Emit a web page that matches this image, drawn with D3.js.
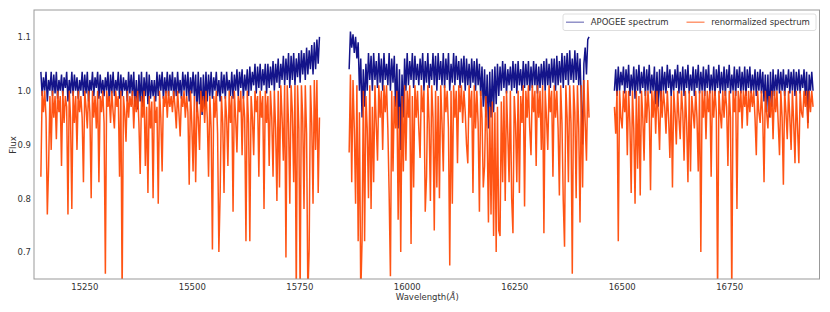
<!DOCTYPE html>
<html><head><meta charset="utf-8">
<script src="https://cdn.jsdelivr.net/npm/d3@7"></script>
<style>body{margin:0;background:#fff}svg{display:block;font-family:"DejaVu Sans",sans-serif}</style>
</head><body><svg id="c" width="830" height="312"></svg>
<script>
// wavelength grid: start of each detector chip (Angstrom) and sampling step
const chipStart = [15149, 15866, 16483];
const stepA = 3;

// chip 1 (blue detector)
const apogee1 = [
1.035,0.99,1.025,1.00,1.035,0.98,1.02,1.00,1.035,0.99,
1.03,0.995,1.035,0.985,1.02,1.00,1.03,0.99,1.025,1.005,
1.035,0.98,1.02,0.995,1.035,0.99,1.03,1.00,1.025,0.985,
1.02,1.00,1.035,0.99,1.03,0.995,1.035,0.98,1.02,1.00,
1.035,0.99,1.025,1.005,1.035,0.985,1.03,0.995,1.02,0.99,
1.025,1.00,1.035,0.98,1.03,0.995,1.035,0.99,1.02,1.00,
1.035,0.985,1.03,0.99,1.025,1.00,1.02,0.98,1.035,0.995,
1.03,0.99,1.035,0.97,1.02,0.965,1.03,0.98,1.035,0.97,
1.025,0.99,1.035,0.975,1.03,0.985,1.02,0.99,1.02,0.98,
1.035,0.99,1.03,1.00,1.035,0.985,1.025,0.995,1.035,0.99,
1.03,1.00,1.035,0.985,1.025,0.99,1.035,0.995,1.02,0.985,
1.035,1.00,1.03,0.99,1.035,0.98,1.025,0.995,1.035,0.99,
1.03,0.96,1.035,0.975,1.025,0.955,1.03,0.97,1.035,0.98,
1.03,0.99,1.035,0.985,1.025,1.00,1.035,0.99,1.02,0.98,
1.035,0.995,1.03,0.985,1.035,1.00,1.02,0.99,1.035,0.985,
1.03,1.00,1.04,0.99,1.035,1.005,1.04,0.985,1.03,1.00,
1.04,0.99,1.045,1.00,1.035,1.01,1.05,0.995,1.045,1.005,
1.05,1.00,1.04,1.01,1.05,0.995,1.05,1.005,1.045,1.01,
1.055,1.00,1.05,1.015,1.06,1.005,1.05,1.02,1.065,1.01,
1.06,1.02,1.07,1.005,1.065,1.02,1.07,1.01,1.06,1.025,
1.07,1.015,1.075,1.03,1.07,1.02,1.08,1.03,1.075,1.04,
1.085,1.03,1.09,1.04,1.095,1.05,1.10];
const renorm1 = [
0.84,1.00,0.96,1.00,0.95,0.77,0.86,0.99,0.89,1.00,
0.95,0.99,0.91,1.00,0.96,0.99,0.86,1.00,0.94,0.99,
0.97,0.77,1.00,0.95,0.78,1.00,0.94,0.99,0.89,1.00,
0.96,0.99,0.95,0.83,1.00,0.97,0.93,1.00,0.96,0.80,
1.00,0.95,0.99,0.93,1.00,0.83,0.99,0.96,1.00,0.94,
0.66,1.00,0.97,0.99,0.94,1.00,0.96,0.93,1.00,0.97,
0.99,0.84,1.00,0.62,0.99,0.96,0.905,1.00,0.95,0.99,
0.97,1.00,0.93,0.99,0.96,1.00,0.94,0.845,0.99,0.95,
1.00,0.86,0.97,0.81,0.99,0.93,0.98,0.80,0.99,0.94,
0.97,0.79,1.00,0.95,0.85,0.99,0.97,1.00,0.95,1.00,
0.97,0.99,0.96,1.00,0.97,0.93,1.00,0.96,0.915,0.99,
0.97,1.00,0.95,0.99,0.96,0.825,1.00,0.94,0.85,0.99,
0.83,0.98,0.95,0.89,1.00,0.96,0.99,0.94,1.00,0.95,
0.84,0.99,0.93,0.705,0.99,0.95,1.00,0.92,0.70,0.81,
0.99,0.94,0.81,0.99,0.95,0.86,1.00,0.94,0.99,0.775,
1.00,0.95,0.885,0.99,0.96,1.00,0.88,0.99,0.95,0.72,
1.00,0.94,0.72,0.99,0.95,0.88,1.00,0.96,0.99,0.84,
1.00,0.95,0.99,0.78,1.00,0.94,0.99,0.86,1.00,0.95,
0.84,1.00,0.93,0.795,1.00,0.82,1.01,0.95,0.87,1.01,
0.69,1.01,0.94,0.79,1.01,0.96,0.83,1.01,0.62,1.01,
0.93,0.62,1.01,0.95,0.78,1.01,0.92,0.62,0.705,1.01,
0.94,0.79,1.02,0.89,1.02,0.81,0.95];

// chip 2 (green detector)
const apogee2 = [
1.04,1.11,1.08,1.105,1.07,1.10,1.06,1.09,1.00,1.06,
0.95,1.04,0.97,1.05,1.00,1.07,1.02,1.065,1.00,1.07,
1.02,1.055,1.005,1.07,1.015,1.06,1.00,1.07,1.02,1.05,
1.01,1.07,1.00,1.06,1.015,1.065,0.97,1.05,0.93,1.04,
0.89,1.03,0.95,1.06,1.00,1.07,1.01,1.055,1.02,1.07,
1.005,1.065,1.02,1.05,1.01,1.06,1.02,1.07,1.00,1.055,
1.015,1.07,1.005,1.05,1.02,1.07,1.01,1.065,1.00,1.07,
1.02,1.055,1.01,1.07,1.005,1.06,1.02,1.07,1.00,1.05,
1.015,1.07,1.01,1.065,1.02,1.055,1.005,1.06,1.015,1.065,
1.00,1.06,1.01,1.05,1.005,1.06,1.015,1.055,1.00,1.06,
1.01,1.05,0.99,1.045,0.97,1.04,0.95,1.03,0.93,1.035,
0.95,1.04,0.96,1.045,0.975,1.05,0.99,1.045,1.00,1.055,
1.005,1.05,0.995,1.04,1.01,1.045,1.00,1.055,1.005,1.05,
0.995,1.055,1.01,1.04,1.00,1.055,1.005,1.05,1.01,1.055,
1.00,1.045,1.005,1.055,1.01,1.05,0.995,1.045,1.005,1.05,
1.01,1.055,1.00,1.06,1.01,1.05,1.005,1.06,1.015,1.06,
1.00,1.065,1.01,1.055,1.015,1.07,1.005,1.065,1.02,1.07,
1.01,1.075,1.02,1.06,1.015,1.075,1.02,1.07,1.01,1.06,
0.98,0.90,1.05,1.08,1.03,1.095,1.10];
const renorm2 = [
0.885,1.03,0.83,1.02,0.93,0.79,1.01,0.72,0.96,0.62,
0.72,1.00,0.72,0.99,0.93,0.80,1.01,0.78,0.97,0.83,
1.01,0.94,0.87,1.01,0.95,1.00,0.89,1.01,0.96,1.01,
0.93,0.81,0.655,1.00,0.85,0.99,0.93,1.00,0.76,0.97,
0.70,0.99,0.85,1.01,0.87,1.00,0.95,1.01,0.715,0.99,
0.82,1.01,0.95,1.00,0.93,0.875,1.01,0.96,1.00,0.775,
0.84,1.01,0.94,0.795,1.01,0.95,0.74,1.00,0.82,0.99,
0.80,1.01,0.94,0.85,1.01,0.96,1.00,0.93,0.675,1.00,
0.79,1.01,0.95,1.00,0.865,1.01,0.96,1.01,0.94,1.00,
0.96,0.90,0.865,1.01,0.95,1.00,0.81,1.01,0.93,1.00,
0.94,0.775,1.00,0.95,0.82,0.86,0.99,0.92,0.755,0.97,
0.77,0.98,0.73,0.96,0.70,0.97,0.74,0.73,0.98,0.83,
0.99,0.795,1.00,0.92,0.83,1.00,0.80,0.735,0.99,0.94,
0.83,1.00,0.81,0.99,0.94,1.01,0.785,1.00,0.95,1.01,
0.93,0.88,1.01,0.96,1.00,0.86,1.01,0.95,1.00,0.89,
1.01,0.735,1.00,0.95,0.89,1.01,0.96,1.00,0.84,1.01,
0.95,1.00,0.93,0.805,1.01,0.94,0.795,0.71,1.01,0.95,
0.83,1.01,0.94,0.66,1.01,0.96,0.80,1.01,0.93,0.755,
1.01,0.82,1.02,0.94,0.87,1.02,0.95];

// chip 3 (red detector)
const apogee3 = [
1.00,1.04,0.99,1.045,1.00,1.035,1.01,1.045,0.995,1.04,
1.005,1.048,0.99,1.03,1.00,1.045,0.985,1.04,1.00,1.048,
0.995,1.035,1.005,1.045,0.99,1.04,1.00,1.048,0.995,1.03,
1.00,1.045,0.975,1.035,0.97,1.04,0.98,1.045,1.00,1.035,
0.995,1.048,1.005,1.04,0.99,1.03,1.00,1.04,1.005,1.048,
0.995,1.035,1.00,1.045,0.99,1.04,1.005,1.048,0.995,1.03,
1.00,1.045,0.99,1.04,1.005,1.048,0.995,1.035,1.00,1.045,
0.99,1.04,1.005,1.048,0.995,1.03,1.00,1.045,0.99,1.04,
1.005,1.048,0.995,1.035,1.00,1.045,0.99,1.04,1.005,1.048,
0.995,1.03,1.00,1.045,0.99,1.04,1.005,1.045,0.995,1.035,
1.00,1.045,0.99,1.04,1.005,1.045,0.995,1.03,1.00,1.04,
0.99,1.035,1.00,1.04,0.995,1.035,0.98,1.03,0.96,1.03,
0.95,1.035,0.97,1.04,0.99,1.03,1.00,1.04,0.995,1.035,
1.00,1.04,0.99,1.03,1.005,1.04,0.995,1.035,1.00,1.04,
0.99,1.035,1.00,1.04,0.995,1.03,1.005,1.04,0.99,1.035,
0.94,1.03,1.00,1.035,1.00];
const renorm3 = [
0.97,0.92,1.00,0.72,1.00,0.95,0.93,1.00,0.96,1.00,
0.88,1.00,0.94,0.81,1.00,0.93,0.79,1.00,0.855,0.99,
0.805,1.00,0.95,0.87,1.00,0.94,1.00,0.96,0.815,1.00,
0.95,1.00,0.92,1.00,0.96,0.89,1.00,0.95,1.00,0.97,
0.92,1.00,0.95,0.875,0.99,0.82,1.00,0.96,0.90,1.00,
0.95,0.91,1.00,0.96,0.87,1.00,0.94,0.83,1.00,0.85,
0.99,0.96,0.93,1.00,0.95,0.85,1.00,0.70,1.00,0.95,
1.00,0.91,1.00,0.96,1.00,0.84,1.00,0.95,1.00,0.96,
0.62,1.00,0.96,0.93,1.00,0.95,1.00,0.97,0.86,1.00,
0.95,0.62,1.00,0.96,1.00,0.78,1.00,0.96,1.00,0.93,
1.00,0.97,1.00,0.935,1.00,0.96,1.00,0.97,1.00,0.95,
0.88,1.00,0.96,0.94,1.00,0.95,0.83,1.00,0.96,0.93,
0.99,0.95,1.00,0.91,1.00,0.96,1.00,0.94,0.88,1.00,
0.95,0.825,1.00,0.96,0.91,1.00,0.95,0.89,1.00,0.94,
0.865,1.00,0.93,0.865,1.00,0.96,0.95,1.00,0.97,1.00,
0.93,1.00,0.96,1.00,0.97];

const apogeeChips = [apogee1, apogee2, apogee3];
const renormChips = [renorm1, renorm2, renorm3];
const xTicks = [15250, 15500, 15750, 16000, 16250, 16500, 16750];
const yTicks = [0.7, 0.8, 0.9, 1.0, 1.1];
const seriesNames = ["APOGEE spectrum", "renormalized spectrum"];
const seriesColors = ["#000080", "#ff4500"];

const svg = d3.select("#c");
const L = 34, R = 819.5, T = 10, B = 279;
const x = d3.scaleLinear().domain([15133, 16960]).range([L, R]);
const y = d3.scaleLinear().domain([0.65, 1.15]).range([B, T]);

svg.append("defs").append("clipPath").attr("id", "clip")
  .append("rect").attr("x", L).attr("y", T).attr("width", R - L).attr("height", B - T);

const toPts = (vals, c) => vals.map((v, i) => [chipStart[c] + i * stepA, v]);
const line = d3.line().x(d => x(d[0])).y(d => y(d[1]));
const plot = svg.append("g").attr("clip-path", "url(#clip)");

[apogeeChips, renormChips].forEach((chips, s) => {
  chips.forEach((vals, c) => {
    plot.append("path").datum(toPts(vals, c))
      .attr("d", line).attr("fill", "none")
      .attr("stroke", seriesColors[s])
      .attr("stroke-opacity", 0.92)
      .attr("stroke-linejoin", "bevel")
      .attr("stroke-width", 1.5);
  });
});

// axes
const fs = "8.5px", tc = "#333";
const xa = svg.append("g").attr("transform", `translate(0,${B})`)
  .call(d3.axisBottom(x).tickValues(xTicks).tickSize(0).tickPadding(4.5).tickFormat(d3.format("d")));
xa.select(".domain").remove();
xa.selectAll("text").attr("font-size", fs).attr("fill", tc).attr("font-family", "DejaVu Sans");
const ya = svg.append("g").attr("transform", `translate(${L},0)`)
  .call(d3.axisLeft(y).tickValues(yTicks).tickSize(0).tickPadding(3).tickFormat(d3.format(".1f")));
ya.select(".domain").remove();
ya.selectAll("text").attr("font-size", fs).attr("fill", tc).attr("font-family", "DejaVu Sans");

// frame
svg.append("rect").attr("x", L).attr("y", T).attr("width", R - L).attr("height", B - T)
  .attr("fill", "none").attr("stroke", "#999").attr("stroke-width", 1);

// labels
svg.append("text").attr("x", (L + R) / 2 + 0.5).attr("y", 299.5).attr("text-anchor", "middle")
  .attr("font-size", fs).attr("fill", tc)
  .html('Wavelength(<tspan font-style="italic">Å</tspan>)');
svg.append("text").attr("transform", "translate(16,145) rotate(-90)").attr("text-anchor", "middle")
  .attr("font-size", fs).attr("fill", tc).text("Flux");

// legend
const lg = svg.append("g");
lg.append("rect").attr("x", 563).attr("y", 14).attr("width", 253).attr("height", 16.5).attr("rx", 2)
  .attr("fill", "#fff").attr("fill-opacity", 0.85).attr("stroke", "#d6d6d6").attr("stroke-width", 0.8);
const legX = [566, 686.5];
seriesNames.forEach((n, i) => {
  lg.append("line").attr("x1", legX[i]).attr("x2", legX[i] + 18).attr("y1", 22.2).attr("y2", 22.2)
    .attr("stroke", seriesColors[i]).attr("stroke-opacity", i === 0 ? 0.5 : 0.65).attr("stroke-width", 1.3);
  lg.append("text").attr("x", legX[i] + 24.7).attr("y", 25.3).attr("font-size", fs).attr("fill", tc).text(n);
});
</script></body></html>
